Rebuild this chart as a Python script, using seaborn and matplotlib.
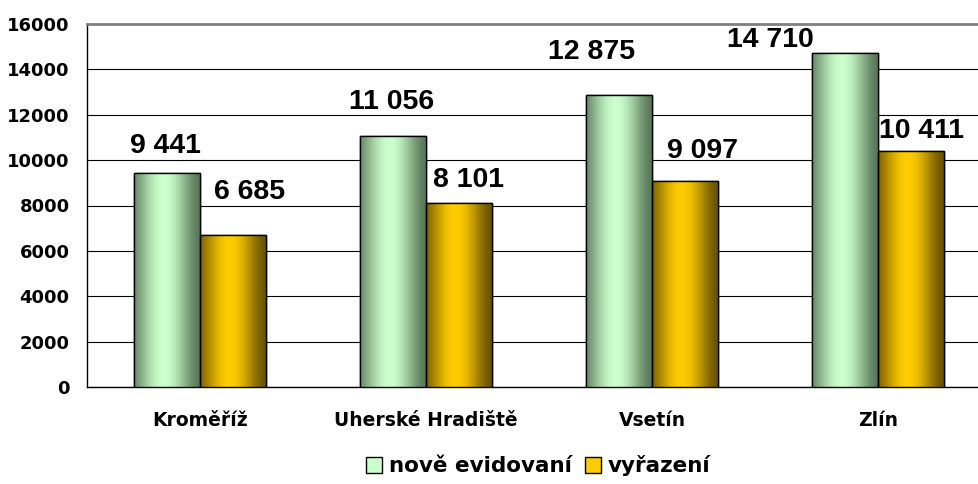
import numpy as np
import pandas as pd
import matplotlib
matplotlib.use("Agg")
import matplotlib.pyplot as plt
import seaborn as sns
from matplotlib.patches import Patch
from matplotlib.colors import to_rgb

# ---- data ----
categories = ["Kroměříž", "Uherské Hradiště", "Vsetín", "Zlín"]
series_names = ["nově evidovaní", "vyřazení"]
nove_evidovani = [9441, 11056, 12875, 14710]
vyrazeni = [6685, 8101, 9097, 10411]
y_ticks = [0, 2000, 4000, 6000, 8000, 10000, 12000, 14000, 16000]

# label offsets (pixels, relative to bar top centre) - layout only
green_off = [(-2, 27), (-2, 34), (-28, 43), (-75, 13)]
yellow_off = [(17, 43), (10, 23), (18, 30), (11, 20)]

df = pd.DataFrame({
    "kraj": categories * 2,
    "serie": [series_names[0]] * 4 + [series_names[1]] * 4,
    "hodnota": nove_evidovani + vyrazeni,
})

sns.set_style("white")
plt.rcParams["font.family"] = ["DejaVu Sans"]
plt.rcParams["text.color"] = "black"
plt.rcParams["xtick.color"] = "black"
plt.rcParams["ytick.color"] = "black"
plt.rcParams["xtick.labelcolor"] = "black"
plt.rcParams["ytick.labelcolor"] = "black"

W, H = 979, 484
fig = plt.figure(figsize=(W / 100, H / 100), dpi=100)
left_px, right_px, top_px, bot_px = 87, 87 + 904, 24, 387
ax = fig.add_axes([left_px / W, 1 - bot_px / H, (right_px - left_px) / W, (bot_px - top_px) / H])

light = {series_names[0]: "#ccffcc", series_names[1]: "#ffcc00"}
dark = {series_names[0]: "#5a785a", series_names[1]: "#6a5400"}

sns.barplot(data=df, x="kraj", y="hodnota", hue="serie", order=categories,
            hue_order=series_names, palette=light, width=0.58, gap=0,
            edgecolor="black", linewidth=1.0, legend=False, ax=ax, zorder=3)

ax.set_xlim(-0.5, 3.5)
ax.set_ylim(0, 16000)

# gradient fill of bars
t = np.linspace(0, 1, 200)
f = np.clip(1 - np.abs(t - 0.45) / 0.55, 0, 1)
f = np.sin(f * np.pi / 2) ** 1.6
bars = list(ax.patches)
for i, p in enumerate(bars):
    s = series_names[0] if i < len(categories) else series_names[1]
    c0 = np.array(to_rgb(dark[s]))
    c1 = np.array(to_rgb(light[s]))
    grad = (c0[None, :] + (c1 - c0)[None, :] * f[:, None])[None, :, :]
    x, y = p.get_x(), p.get_y()
    w, h = p.get_width(), p.get_height()
    im = ax.imshow(grad, extent=[x, x + w, y, y + h], aspect="auto",
                   zorder=3.5, interpolation="bilinear")
    im.set_clip_path(p)
    ax.add_patch(plt.Rectangle((x, y), w, h, fill=False, edgecolor="black",
                               linewidth=1.0, zorder=4))

ax.set_xlim(-0.5, 3.5)
ax.set_ylim(0, 16000)

# value labels
px2pt = 72 / 100
for i, p in enumerate(bars):
    if i < len(categories):
        val = nove_evidovani[i]; dx, dy = green_off[i]
    else:
        val = vyrazeni[i - len(categories)]; dx, dy = yellow_off[i - len(categories)]
    txt = f"{val:,}".replace(",", " ")
    ax.annotate(txt, xy=(p.get_x() + p.get_width() / 2, p.get_height()),
                xytext=(dx * px2pt, dy * px2pt), textcoords="offset points",
                ha="center", va="center", fontsize=20.5, fontweight="bold",
                family=["Liberation Sans", "DejaVu Sans"], color="black", zorder=6)

# axes styling
ax.set_yticks(y_ticks)
ax.set_yticklabels([str(v) for v in y_ticks], fontsize=13, fontweight="bold", color="black")
ax.yaxis.grid(True, color="black", linewidth=0.8, zorder=0)
ax.set_axisbelow(True)
ax.tick_params(axis="y", direction="out", length=4.5, width=0.8, color="black", pad=8)
ax.set_xticks(range(len(categories)))
ax.set_xticklabels(categories, fontsize=13.5, fontweight="bold", color="black")
ax.tick_params(axis="x", which="major", length=0, pad=17)
ax.set_xticks([-0.5, 0.5, 1.5, 2.5, 3.5], minor=True)
ax.tick_params(axis="x", which="minor", direction="out", length=4, width=0.8, color="black")
ax.set_xlabel("")
ax.set_ylabel("")
for s in ["left", "bottom"]:
    ax.spines[s].set_color("black")
    ax.spines[s].set_linewidth(1.0)
ax.spines["right"].set_visible(False)
ax.spines["top"].set_color("#808080")
ax.spines["top"].set_linewidth(2.0)

handles = [Patch(facecolor=light[s], edgecolor="black", linewidth=1.0, label=s) for s in series_names]
fig.legend(handles=handles, loc="center", bbox_to_anchor=(538 / W, 1 - 466 / H),
           ncol=2, frameon=False, prop={"weight": "bold", "size": 15.5},
           labelcolor="black",
           handlelength=0.75, handleheight=0.75, handletextpad=0.3, columnspacing=0.6)

fig.savefig("out.png", dpi=100)
